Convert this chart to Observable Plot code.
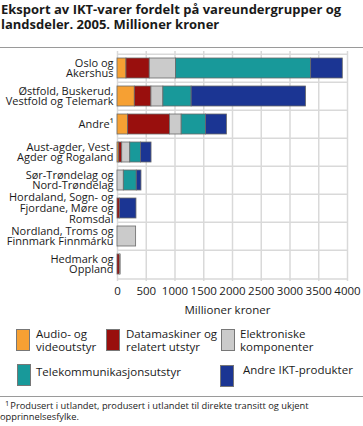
<!DOCTYPE html>
<html>
<head>
<meta charset="utf-8">
<script src="https://cdn.jsdelivr.net/npm/d3@7"></script>
<script src="https://cdn.jsdelivr.net/npm/@observablehq/plot@0.6"></script>
<style>
  html, body { margin: 0; padding: 0; background: #fff; }
  body { width: 363px; height: 426px; position: relative; overflow: hidden; font-family: "Open Sans", sans-serif; color: #1a1a1a; }
  #title { position: absolute; left: 1px; top: 2px; font-weight: bold; font-size: 13px; line-height: 14.5px; width: 362px; }
  .hr { position: absolute; left: 0; width: 363px; height: 0; border-top: 1px solid #9a9a9a; }
  #chart { position: absolute; left: 0; top: 48px; }
  .sw { position: absolute; width: 14px; height: 22px; border: 1px solid #777; box-sizing: border-box; }
  .lt { position: absolute; font-size: 11.5px; line-height: 13px; white-space: nowrap; }
  #foot { position: absolute; left: 0; top: 401px; font-size: 9.3px; line-height: 10.5px; white-space: nowrap; }
  #foot sup { font-size: 7.5px; vertical-align: 0; position: relative; top: -3px; margin-left: 5px; margin-right: 1px; }
</style>
</head>
<body>
<div id="title">Eksport av IKT-varer fordelt på vareundergrupper og<br>landsdeler. 2005. Millioner kroner</div>
<div class="hr" style="top:47px"></div>
<div id="chart"></div>
<div id="legend"></div>
<div class="hr" style="top:396px"></div>
<div id="foot"><sup>1</sup>Produsert i utlandet, produsert i utlandet til direkte transitt og ukjent<br>opprinnelsesfylke.</div>
<script>
const regions = [
  "Oslo og\nAkershus",
  "Østfold, Buskerud,\nVestfold og Telemark",
  "Andre¹",
  "Aust-agder, Vest-\nAgder og Rogaland",
  "Sør-Trøndelag og\nNord-Trøndelag",
  "Hordaland, Sogn- og\nFjordane, Møre og\nRomsdal",
  "Nordland, Troms og\nFinnmark Finnmárku",
  "Hedmark og\nOppland"
];
const categories = [
  "Audio- og videoutstyr",
  "Datamaskiner og relatert utstyr",
  "Elektroniske komponenter",
  "Telekommunikasjonsutstyr",
  "Andre IKT-produkter"
];
const legendLabels = [
  "Audio- og\nvideoutstyr",
  "Datamaskiner og\nrelatert utstyr",
  "Elektroniske\nkomponenter",
  "Telekommunikasjonsutstyr",
  "Andre IKT-produkter"
];
const colors = ["#f6a033", "#990f0d", "#cbcbcb", "#18999a", "#1b3593"];

const audio        = [156, 301, 185,  30,   0,   0,   0,  0];
const datamaskiner = [405, 289, 729,  52,   0,  40,   0, 40];
const elektroniske = [458, 208, 202, 140, 110,   0, 324, 15];
const telekom      = [2349, 491, 423, 185, 225,  0,   0,  0];
const andreIKT     = [550, 1991, 365, 185,  82, 290,  0,  0];

const xTicks = [0, 500, 1000, 1500, 2000, 2500, 3000, 3500, 4000];
const xLabel = "Millioner kroner";

const series = [audio, datamaskiner, elektroniske, telekom, andreIKT];
const data = [];
regions.forEach((r, i) => {
  categories.forEach((c, j) => {
    data.push({region: r, category: c, value: series[j][i]});
  });
});

const W = 363, H = 272, mT = 3, mB = 39, mL = 117, mR = 16;
const step = (H - mT - mB) / regions.length;

const chart = Plot.plot({
  width: W,
  height: H,
  marginTop: mT,
  marginBottom: mB,
  marginLeft: mL,
  marginRight: mR,
  style: {fontFamily: "Open Sans", fontSize: "11px", color: "#1a1a1a", background: "transparent"},
  x: {domain: [0, 4000]},
  y: {domain: regions, paddingInner: 0.29, paddingOuter: 0.145},
  color: {domain: categories, range: colors},
  marks: [
    Plot.ruleX(xTicks, {stroke: "#d9d9d9", strokeWidth: 1.5}),
    Plot.ruleY(regions, {dy: -step / 2, stroke: "#d9d9d9", strokeWidth: 1.5}),
    Plot.ruleY([regions[regions.length - 1]], {dy: step / 2, stroke: "#d9d9d9", strokeWidth: 1.5}),
    Plot.barX(data, Plot.stackX({x: "value", y: "region", fill: "category", order: categories, stroke: "#6a6a6a", strokeWidth: 0.8})),
    Plot.axisY({tickSize: 0, tickPadding: 4, lineHeight: 0.98, label: null, fontSize: 11, fill: "#1a1a1a"}),
    Plot.axisX({ticks: xTicks, tickSize: 0, tickPadding: 5, tickFormat: d => String(d), label: null, fontSize: 11.5, fill: "#1a1a1a"}),
    Plot.text([xLabel], {frameAnchor: "bottom", dy: 29, dx: -5, text: d => d, fontSize: 11.5, fill: "#1a1a1a", lineAnchor: "middle"})
  ]
});
document.getElementById("chart").appendChild(chart);

// legend
const legendPos = [
  {sx: 16, sy: 329, tx: 36, ty: 327},
  {sx: 106, sy: 329, tx: 126, ty: 327},
  {sx: 221, sy: 329, tx: 240, ty: 327},
  {sx: 17, sy: 364, tx: 36, ty: 365},
  {sx: 220, sy: 365, tx: 243, ty: 363}
];
const legend = document.getElementById("legend");
categories.forEach((c, j) => {
  const p = legendPos[j];
  const sw = document.createElement("div");
  sw.className = "sw";
  sw.style.left = p.sx + "px";
  sw.style.top = p.sy + "px";
  sw.style.background = colors[j];
  legend.appendChild(sw);
  const t = document.createElement("div");
  t.className = "lt";
  t.style.left = p.tx + "px";
  t.style.top = p.ty + "px";
  t.innerHTML = legendLabels[j].replace("\n", "<br>");
  legend.appendChild(t);
});
</script>
</body>
</html>
